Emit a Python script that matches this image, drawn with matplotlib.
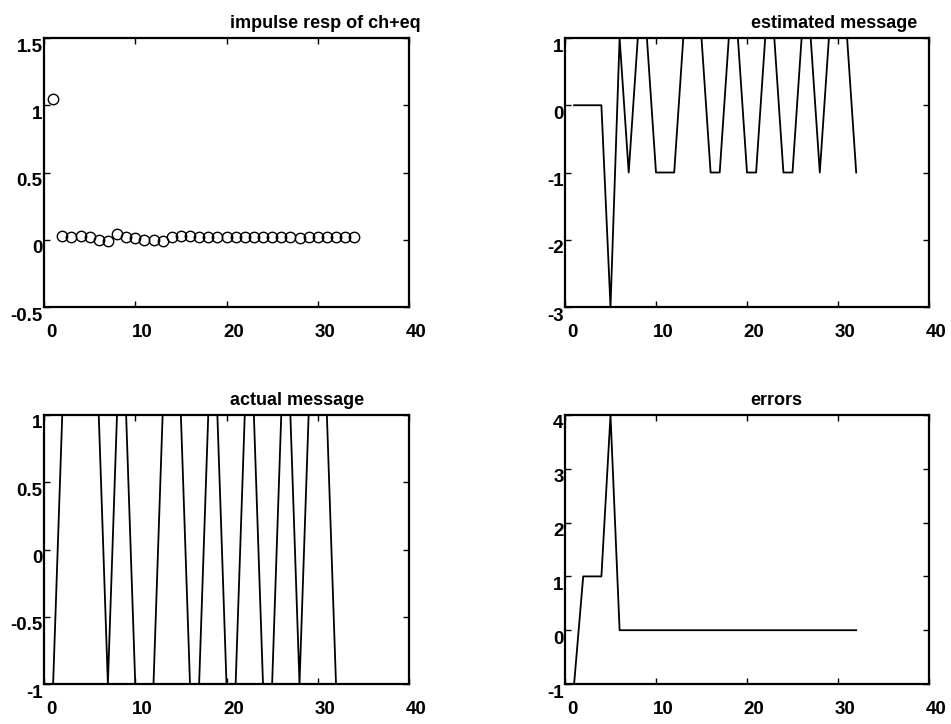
import numpy as np
import matplotlib
matplotlib.use("Agg")
import matplotlib.pyplot as plt
from matplotlib.transforms import ScaledTranslation

plt.rcParams['font.family'] = ['Liberation Sans', 'DejaVu Sans']
plt.rcParams['font.weight'] = 'bold'

# impulse response of channel + equalizer (n = 1..34)
imp_n = np.arange(1, 35)
imp_resp = [1.05, 0.03, 0.02, 0.03, 0.02, 0.0, -0.01, 0.04, 0.02, 0.01, 0.0,
            0.0, -0.01, 0.02, 0.03, 0.03, 0.02, 0.02, 0.02, 0.02, 0.02, 0.02,
            0.02, 0.02, 0.02, 0.02, 0.02, 0.01, 0.02, 0.02, 0.02, 0.02, 0.02,
            0.02]

# messages (n = 1..32)
msg_n = np.arange(1, 33)
est_msg = [0, 0, 0, 0, -3, 1, -1, 1, 1, -1, -1, -1, 1, 1, 1, -1,
           -1, 1, 1, -1, -1, 1, 1, -1, -1, 1, 1, -1, 1, 1, 1, -1]
act_msg = [-1, 1, 1, 1, 1, 1, -1, 1, 1, -1, -1, -1, 1, 1, 1, -1,
           -1, 1, 1, -1, -1, 1, 1, -1, -1, 1, 1, -1, 1, 1, 1, -1]
errors = [-1, 1, 1, 1, 4, 0, 0, 0, 0, 0, 0, 0, 0, 0, 0, 0,
          0, 0, 0, 0, 0, 0, 0, 0, 0, 0, 0, 0, 0, 0, 0, 0]

xticks = [0, 10, 20, 30, 40]

W, H = 951, 724
fig = plt.figure(figsize=(W / 100, H / 100), dpi=100)


def make_axes(l, r, t, b):
    return fig.add_axes([l / W, (H - b) / H, (r - l) / W, (b - t) / H])


def style(ax, yticks, ylabels, title, xpad):
    ax.set_xlim(0, 40)
    ax.set_ylim(yticks[0], yticks[-1])
    ax.set_xticks(xticks)
    ax.set_xticklabels([str(v) for v in xticks])
    ax.set_yticks(yticks)
    ax.set_yticklabels(ylabels)
    ax.tick_params(direction='in', length=4, width=1, top=True, right=True,
                   labelsize=13.5)
    ax.tick_params(axis='x', pad=xpad)
    ax.tick_params(axis='y', pad=1)
    for s in ax.spines.values():
        s.set_linewidth(1.6)
    for lab in ax.get_xticklabels():
        lab.set_transform(lab.get_transform() + ScaledTranslation(0.07, 0, fig.dpi_scale_trans))
    for lab in ax.get_yticklabels():
        lab.set_transform(lab.get_transform() + ScaledTranslation(0, -0.07, fig.dpi_scale_trans))
    ax.annotate(title, xy=(0.51, 1), xycoords='axes fraction', xytext=(0, 7),
                textcoords='offset points', ha='left', va='baseline',
                fontsize=13, fontweight='bold')


ax1 = make_axes(44, 409, 38, 307)
ax1.plot(imp_n, imp_resp, 'o', mfc='none', mec='black', ms=7.5, mew=1.0)
style(ax1, [-0.5, 0, 0.5, 1, 1.5], ['-0.5', '0', '0.5', '1', '1.5'],
      'impulse resp of ch+eq', 12)

ax2 = make_axes(565, 929, 38, 307)
ax2.plot(msg_n, est_msg, color='black', lw=1.3)
style(ax2, [-3, -2, -1, 0, 1], ['-3', '-2', '-1', '0', '1'],
      'estimated message', 12)

ax3 = make_axes(44, 409, 415, 684)
ax3.plot(msg_n, act_msg, color='black', lw=1.3)
style(ax3, [-1, -0.5, 0, 0.5, 1], ['-1', '-0.5', '0', '0.5', '1'],
      'actual message', 12)

ax4 = make_axes(565, 929, 415, 684)
ax4.plot(msg_n, errors, color='black', lw=1.3)
style(ax4, [-1, 0, 1, 2, 3, 4], ['-1', '0', '1', '2', '3', '4'],
      'errors', 12)

fig.savefig('out.png', dpi=100)
